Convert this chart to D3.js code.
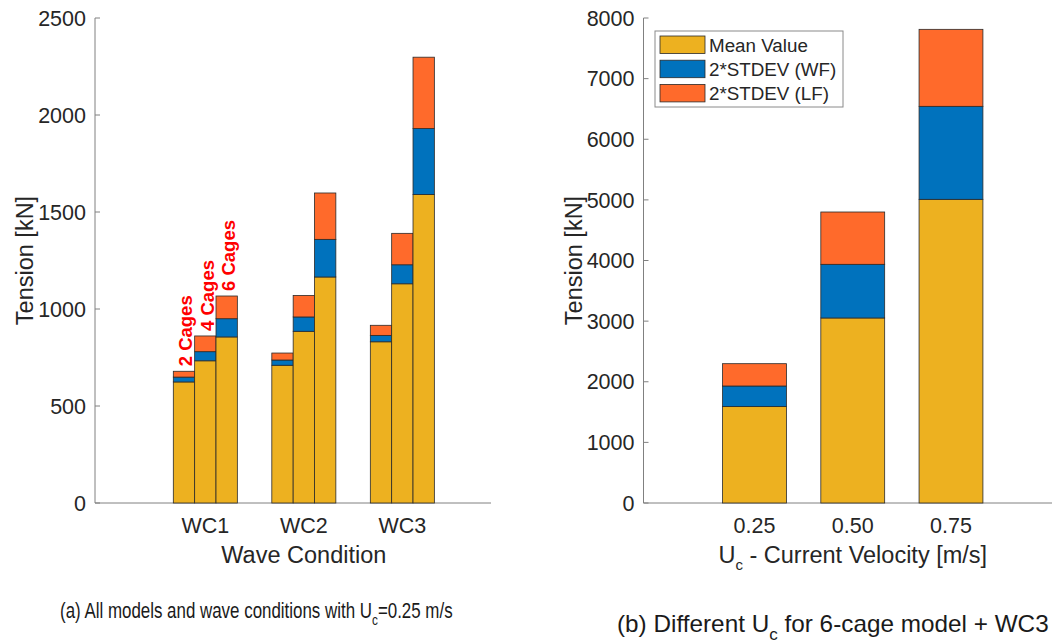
<!DOCTYPE html>
<html>
<head>
<meta charset="utf-8">
<script src="https://cdn.jsdelivr.net/npm/d3@7"></script>
<style>
  html, body { margin: 0; padding: 0; background: #fff; }
  svg text { font-family: Arial, "Liberation Sans", Helvetica, sans-serif; fill: #262626; }
</style>
</head>
<body>
<svg id="chart" width="1052" height="643"></svg>
<script>
// ---- data ----
const waveConditions = ["WC1", "WC2", "WC3"];
const models = ["2 Cages", "4 Cages", "6 Cages"];
// per wave condition, per model (2, 4, 6 cages), Uc = 0.25 m/s
const meanByWC = [[624, 733, 856], [710, 885, 1165], [831, 1130, 1590]];
const stdWFByWC = [[25, 47, 94], [27, 74, 194], [33, 98, 340]];
const stdLFByWC = [[30, 81, 117], [36, 111, 239], [52, 162, 368]];

// 6-cage model + WC3 at different current velocities
const velocities = ["0.25", "0.50", "0.75"];
const meanByUc = [1590, 3052, 5009];
const stdWFByUc = [340, 885, 1534];
const stdLFByUc = [368, 863, 1270];

const seriesNames = ["Mean Value", "2*STDEV (WF)", "2*STDEV (LF)"];
const leftTicks = [0, 500, 1000, 1500, 2000, 2500];
const rightTicks = [0, 1000, 2000, 3000, 4000, 5000, 6000, 7000, 8000];

const colors = ["#EDB120", "#0072BD", "#FF6A2B"];
const axisColor = "#808080";
const edgeColor = "#2a2a2a";
const tickFont = "21.5px";
const titleFont = "23.5px";

const svg = d3.select("#chart");

function stackRows(means, wf, lf) {
  return means.map((m, i) => {
    const parts = [m, wf[i], lf[i]];
    let acc = 0;
    return parts.map((v, k) => { const seg = { k, y0: acc, y1: acc + v }; acc += v; return seg; });
  });
}

function drawAxes(g, x, y, yTicks, catLabels, yTitle, xTitleFn) {
  const [x0, x1] = x.range();
  const [yb, yt] = y.range();
  // y axis
  g.append("line").attr("x1", x0).attr("x2", x0).attr("y1", yb).attr("y2", yt)
    .attr("stroke", axisColor).attr("stroke-width", 1);
  yTicks.forEach(t => {
    g.append("line").attr("x1", x0).attr("x2", x0 + 5).attr("y1", y(t)).attr("y2", y(t))
      .attr("stroke", axisColor);
    g.append("text").attr("x", x0 - 9).attr("y", y(t)).attr("dy", "0.36em")
      .attr("text-anchor", "end").style("font-size", tickFont).text(t);
  });
  // x axis
  g.append("line").attr("x1", x0).attr("x2", x1).attr("y1", yb).attr("y2", yb)
    .attr("stroke", axisColor).attr("stroke-width", 1);
  catLabels.forEach((c, i) => {
    g.append("line").attr("x1", x(i + 1)).attr("x2", x(i + 1)).attr("y1", yb).attr("y2", yb - 5)
      .attr("stroke", axisColor);
    g.append("text").attr("x", x(i + 1)).attr("y", yb + 30)
      .attr("text-anchor", "middle").style("font-size", tickFont).text(c);
  });
  // y title
  g.append("text")
    .attr("transform", `translate(${x0 - 62},${(yb + yt) / 2}) rotate(-90)`)
    .attr("text-anchor", "middle").style("font-size", titleFont).text(yTitle);
  xTitleFn(g, (x(1) + x(3)) / 2, yb + 60);
}

function drawBars(g, x, y, rows, xPos, w) {
  rows.forEach((segs, i) => {
    g.selectAll(null).data(segs).enter().append("rect")
      .attr("x", x(xPos(i)) - (x(w) - x(0)) / 2)
      .attr("width", x(w) - x(0))
      .attr("y", d => y(d.y1))
      .attr("height", d => y(d.y0) - y(d.y1))
      .attr("fill", d => colors[d.k])
      .attr("stroke", edgeColor).attr("stroke-width", 0.8);
  });
}

// ---- (a) left panel ----
const xL = d3.scaleLinear().domain([-0.12, 3.9]).range([95, 491]);
const yL = d3.scaleLinear().domain([0, 2500]).range([503, 18]);
const gL = svg.append("g");
drawAxes(gL, xL, yL, leftTicks, waveConditions, "Tension [kN]", (g, cx, by) => {
  g.append("text").attr("x", cx).attr("y", by).attr("text-anchor", "middle")
    .style("font-size", titleFont).text("Wave Condition");
});
const groupW = 0.65;
const barW = groupW / models.length;
waveConditions.forEach((wc, i) => {
  const rows = stackRows(meanByWC[i], stdWFByWC[i], stdLFByWC[i]);
  drawBars(gL, xL, yL, rows, j => i + 1 - groupW / 2 + barW * (j + 0.5), barW);
});
// model labels above the WC1 bars
models.forEach((m, j) => {
  const total = meanByWC[0][j] + stdWFByWC[0][j] + stdLFByWC[0][j];
  const cx = xL(1 - groupW / 2 + barW * (j + 0.5)) + 1.5;
  gL.append("text")
    .attr("transform", `translate(${cx},${yL(total) - 5}) rotate(-90)`)
    .attr("dy", "0.36em")
    .style("font-size", "18.5px").style("font-weight", "bold").style("fill", "#FF0000")
    .text(m);
});

// ---- (b) right panel ----
const xR = d3.scaleLinear().domain([-0.13, 4.13]).range([643.5, 1062]);
const yR = d3.scaleLinear().domain([0, 8000]).range([503, 18]);
const gR = svg.append("g");
drawAxes(gR, xR, yR, rightTicks, velocities, "Tension [kN]", (g, cx, by) => {
  const t = g.append("text").attr("x", cx).attr("y", by).attr("text-anchor", "middle")
    .style("font-size", titleFont);
  t.append("tspan").text("U");
  t.append("tspan").attr("dy", 7).style("font-size", "15px").text("c");
  t.append("tspan").attr("dy", -7).text(" - Current Velocity [m/s]");
});
const rowsR = stackRows(meanByUc, stdWFByUc, stdLFByUc);
drawBars(gR, xR, yR, rowsR, i => i + 1, groupW);

// legend
const lg = svg.append("g").attr("transform", "translate(655,31)");
lg.append("rect").attr("width", 188).attr("height", 76).attr("fill", "#fff")
  .attr("stroke", "#8a8a8a").attr("stroke-width", 1);
seriesNames.forEach((s, k) => {
  const ry = 5 + k * 24.2;
  lg.append("rect").attr("x", 5).attr("y", ry).attr("width", 45).attr("height", 17.5)
    .attr("fill", colors[k]).attr("stroke", edgeColor).attr("stroke-width", 0.8);
  lg.append("text").attr("x", 54).attr("y", ry + 8.75).attr("dy", "0.36em")
    .style("font-size", "18.8px").text(s);
});

// captions, squeezed to a set width
function caption(x, y, size, width, before, after) {
  const t = svg.append("text")
    .attr("transform", `translate(${x},${y})`)
    .style("font-size", size + "px").style("fill", "#1a1a1a");
  t.append("tspan").text(before);
  t.append("tspan").attr("dy", size * 0.34).style("font-size", (size * 0.7) + "px").text("c");
  t.append("tspan").attr("dy", -size * 0.34).text(after);
  const natural = t.node().getComputedTextLength();
  t.attr("transform", `translate(${x},${y}) scale(${width / natural},1)`);
}
caption(60, 618, 21.5, 393, "(a) All models and wave conditions with U", "=0.25 m/s");
caption(617, 632, 23, 432, "(b) Different U", " for 6-cage model + WC3");
</script>
</body>
</html>
